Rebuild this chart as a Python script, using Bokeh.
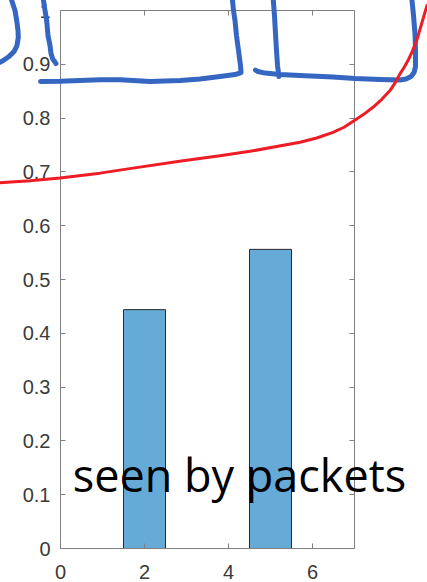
from bokeh.plotting import figure
from bokeh.models import Range1d, LinearAxis, FixedTicker, NumeralTickFormatter
from bokeh.core.properties import value
from bokeh.embed import file_html
from bokeh.resources import INLINE

# ---- data ----
bar_x = [2, 5]
bar_h = [0.444, 0.556]
x_ticks = [0, 2, 4, 6]
y_ticks = [0, 0.1, 0.2, 0.3, 0.4, 0.5, 0.6, 0.7, 0.8, 0.9, 1.0]

# hand-drawn annotation strokes (data units)
stroke_a_x = [-1.162, -1.083, -1.043, -1.012, -1.005, -1.036, -1.107, -1.226, -1.345, -1.440]
stroke_a_y = [1.0186, 1.0, 0.9814, 0.9628, 0.9498, 0.9349, 0.9237, 0.9144, 0.9079, 0.9038]
stroke_b_x = [-0.405, -0.369, -0.329, -0.298, -0.25, -0.226, -0.186, -0.131, -0.107]
stroke_b_y = [1.0186, 1.0, 0.9814, 0.9535, 0.9349, 0.92, 0.9101, 0.9042, 0.9014]
stroke_c_x = [-0.476, -0.012, 0.464, 0.940, 1.417, 2.131, 2.845, 3.321, 3.798, 4.155, 4.298,
              4.286, 4.238, 4.190, 4.155, 4.119, 4.095]
stroke_c_y = [0.8679, 0.8684, 0.8698, 0.8711, 0.8711, 0.8679, 0.8698, 0.8726, 0.8772, 0.8809, 0.8847,
              0.8977, 0.9256, 0.9535, 0.9814, 1.0, 1.0186]
stroke_d_x = [5.067, 5.095, 5.119, 5.143, 5.167, 5.202]
stroke_d_y = [1.0186, 0.9907, 0.9572, 0.9256, 0.8977, 0.8772]
stroke_e_x = [4.643, 4.702, 4.869, 5.226, 5.702, 6.488, 7.012, 7.607, 8.083, 8.226, 8.345, 8.417,
              8.452, 8.452, 8.440, 8.405, 8.369]
stroke_e_y = [0.8893, 0.8865, 0.8837, 0.8809, 0.8791, 0.8763, 0.8735, 0.8716, 0.8707, 0.8726, 0.8772, 0.8847,
              0.8958, 0.9256, 0.9572, 0.9907, 1.0186]
red_x = [-1.440, -0.726, -0.012, 0.940, 1.726, 2.917, 3.798, 4.512, 5.702, 6.100, 6.488, 6.750, 6.988,
         7.220, 7.440, 7.650, 7.845, 7.970, 8.083, 8.180, 8.274, 8.381, 8.481, 8.607, 8.726]
red_y = [0.680, 0.6837, 0.6887, 0.6977, 0.7070, 0.7209, 0.7302, 0.7382, 0.7550, 0.7630, 0.7736, 0.7830, 0.7953,
         0.8070, 0.8201, 0.8350, 0.8512, 0.8660, 0.8822, 0.8940, 0.9070, 0.9250, 0.9442, 0.9777, 1.0093]
note_text = ["seen by packets"]
note_x = [0.29]
note_y = [0.138]

AX = "#808080"
LBL = "#3a3a3a"

p = figure(width=427, height=582, x_range=Range1d(0, 7), y_range=Range1d(0, 1),
           output_backend="svg", toolbar_location=None,
           min_border_left=60, min_border_right=73, min_border_top=10, min_border_bottom=34)
p.xgrid.visible = False
p.ygrid.visible = False
p.outline_line_color = None
p.background_fill_color = "white"
p.border_fill_color = "white"

def style_axis(ax, ticks, labels=True, standoff=10):
    ax.ticker = FixedTicker(ticks=ticks)
    ax.formatter = NumeralTickFormatter(format="0.[0]")
    ax.axis_line_color = AX
    ax.axis_line_width = 1
    ax.major_tick_line_color = AX
    ax.major_tick_in = 5
    ax.major_tick_out = 0
    ax.minor_tick_line_color = None
    ax.major_label_text_font = "Liberation Sans"
    if labels:
        ax.major_label_text_color = LBL
        ax.major_label_text_font_size = "20px"
        ax.major_label_standoff = standoff
    else:
        ax.major_label_text_color = None
        ax.major_label_text_font_size = "1px"
        ax.major_label_standoff = 0

style_axis(p.xaxis[0], x_ticks, True, 16)
p.xaxis[0].major_label_text_line_height = 0.7
style_axis(p.yaxis[0], y_ticks, True, 10)
top_ax = LinearAxis()
right_ax = LinearAxis()
style_axis(top_ax, x_ticks, False)
style_axis(right_ax, y_ticks, False)
p.add_layout(top_ax, "above")
p.add_layout(right_ax, "right")

p.vbar(x=bar_x, top=bar_h, bottom=0, width=1, fill_color="#66aad7",
       line_color="#2a2a2a", line_width=1)

p.multi_line(xs=[stroke_a_x, stroke_b_x, stroke_c_x, stroke_d_x, stroke_e_x],
             ys=[stroke_a_y, stroke_b_y, stroke_c_y, stroke_d_y, stroke_e_y],
             line_color="#3566c2", line_width=5, line_cap="round", line_join="round",
             level="overlay")
p.line(red_x, red_y, line_color="#ee1c25", line_width=3, line_cap="round",
       line_join="round", level="overlay")

p.text(x=note_x, y=note_y, text=note_text, text_font=value("Open Sans"),
       text_font_size=value("45px"), text_color="black", text_baseline="alphabetic",
       level="overlay")

open("out.html", "w").write(file_html(p, INLINE))
